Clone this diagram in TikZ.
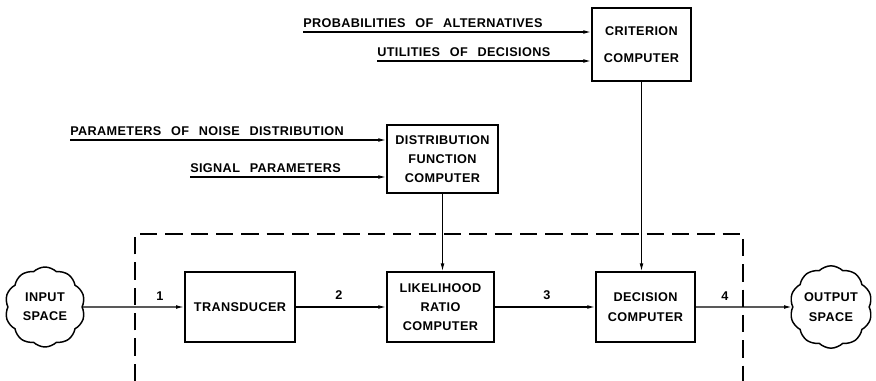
\documentclass[tikz,border=0pt]{standalone}
\usepackage{fontspec}
\setmainfont{Liberation Sans}[LetterSpace=3,WordSpace=2.5]
\usetikzlibrary{arrows.meta,shapes.symbols}
\newcommand\diaglbl{\fontsize{9.5}{14.5}\selectfont\bfseries}

\begin{document}
\begin{tikzpicture}[x=0.75pt,y=0.75pt,yscale=-1,xscale=1,
  box/.style={draw, line width=1.3pt, align=center, font=\diaglbl, inner sep=1pt},
  arr/.style={line width=0.9pt, -{Latex[length=6pt,width=2.8pt]}},
  puff/.style={cloud, draw, line width=1.1pt, cloud puffs=10, cloud puff arc=90, aspect=1, minimum width=60pt, minimum height=60pt, inner sep=0pt, align=center, font=\diaglbl},
  txt/.style={font=\diaglbl, inner sep=0pt}]
\useasboundingbox (0,0) rectangle (876,381);

%Shape: Rectangle [criterion]
\node[box, minimum width=74pt, minimum height=55pt] (crit) at (641.5,44.5) {CRITERION\\[6pt]COMPUTER};
%Shape: Rectangle [distribution]
\node[box, minimum width=83pt, minimum height=51pt] (dist) at (442.5,159) {DISTRIBUTION\\FUNCTION\\COMPUTER};
%Shape: Rectangle [transducer]
\node[box, minimum width=82.5pt, minimum height=52.5pt] (trans) at (240,307) {TRANSDUCER};
%Shape: Rectangle [likelihood]
\node[box, minimum width=80pt, minimum height=52pt] (lik) at (440.5,307) {LIKELIHOOD\\RATIO\\COMPUTER};
%Shape: Rectangle [decision]
\node[box, minimum width=74pt, minimum height=52pt] (dec) at (645.5,307) {DECISION\\COMPUTER};

%Shape: Cloud
\node[puff] (inp) at (45,307) {INPUT\\SPACE};
%Shape: Cloud
\node[puff] (outp) at (831,307) {OUTPUT\\SPACE};

%Straight Lines [dashed frame]
\draw [line width=0.9pt, dash pattern={on 13pt off 6pt}] (135,381) -- (135,234) -- (743,234) -- (743,381) ;

%Straight Lines [inputs]
\coordinate (prob) at (303,32);
\coordinate (util) at (377,61);
\coordinate (noise) at (70,140);
\coordinate (sig) at (190,177);
\draw[arr] (prob) -- (crit.west |- prob);
\draw[arr] (util) -- (crit.west |- util);
\draw[arr] (noise) -- (dist.west |- noise);
\draw[arr] (sig) -- (dist.west |- sig);

%Straight Lines [down]
\draw[arr] (dist.south) -- (dist.south |- lik.north);
\draw[arr] (crit.south) -- (crit.south |- dec.north);

%Straight Lines [main chain]
\draw[arr] (inp.east) -- (trans.west);
\draw[arr] (trans.east) -- (lik.west);
\draw[arr] (lik.east) -- (dec.west);
\draw[arr] (dec.east) -- (outp.west);

% Text Node
\node[txt, anchor=base west, yshift=3pt] (probtxt) at (prob) {PROBABILITIES OF ALTERNATIVES};
% Text Node
\node[txt, anchor=base west, yshift=3pt] (utiltxt) at (util) {UTILITIES OF DECISIONS};
% Text Node
\node[txt, anchor=base west, yshift=3pt] (noisetxt) at (noise) {PARAMETERS OF NOISE DISTRIBUTION};
% Text Node
\node[txt, anchor=base west, yshift=3pt] (sigtxt) at (sig) {SIGNAL PARAMETERS};
% Text Node
\node[txt] (n1) at (160,296) {1};
% Text Node
\node[txt] (n2) at (339,295) {2};
% Text Node
\node[txt] (n3) at (547,295) {3};
% Text Node
\node[txt] (n4) at (725,296) {4};

\end{tikzpicture}
\end{document}
